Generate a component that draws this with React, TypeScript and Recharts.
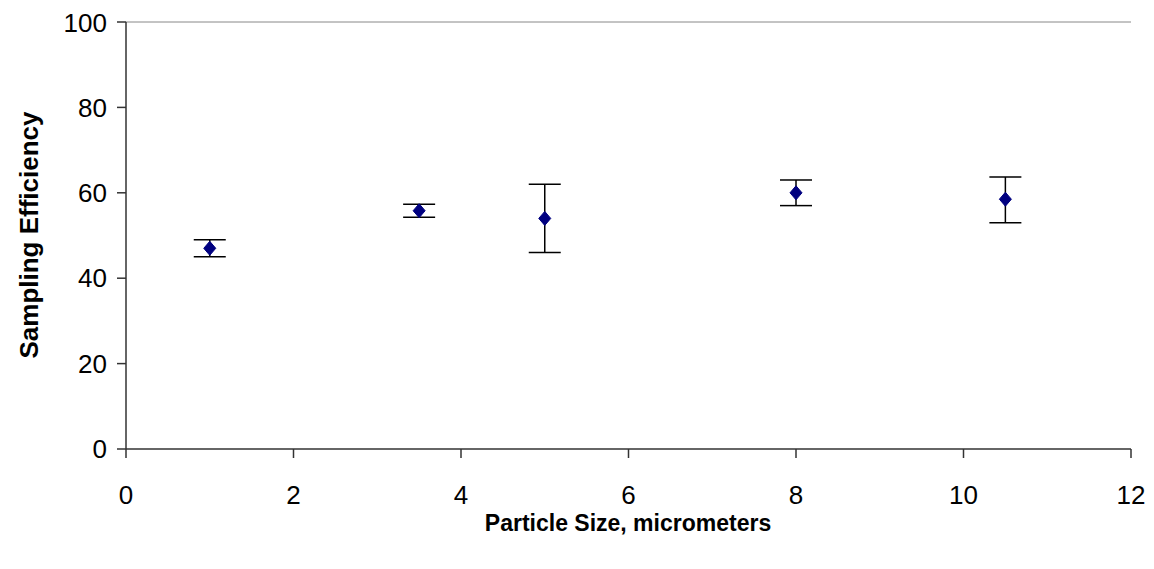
import React from "react";
import { ScatterChart, Scatter, XAxis, YAxis, ErrorBar, ReferenceLine, Label } from "recharts";

const particleSizes = [1, 3.5, 5, 8, 10.5];
const efficiency = [47, 55.8, 54, 60, 58.5];
const errorLow = [2, 1.5, 8, 3, 5.5];
const errorHigh = [2, 1.5, 8, 3, 5.2];
const xTicks = [0, 2, 4, 6, 8, 10, 12];
const yTicks = [0, 20, 40, 60, 80, 100];

const data = particleSizes.map((x, i) => ({
  x,
  y: efficiency[i],
  err: [errorLow[i], errorHigh[i]],
}));

const FONT = "'Liberation Sans', Arial, sans-serif";

const Diamond = (props: any) => {
  const { cx, cy } = props;
  if (cx == null || cy == null) return null;
  return (
    <polygon
      points={`${cx},${cy - 7} ${cx + 6},${cy} ${cx},${cy + 7} ${cx - 6},${cy}`}
      fill="#000080"
      stroke="#000080"
      strokeWidth={1}
    />
  );
};

export default function App() {
  return (
    <div style={{ width: 1146, height: 553 }}>
      <ScatterChart
        width={1146}
        height={553}
        margin={{ top: 14, right: 23, bottom: 0, left: 0 }}
      >
        <XAxis
          type="number"
          dataKey="x"
          domain={[0, 12]}
          ticks={xTicks}
          allowDataOverflow
          height={112}
          tickSize={9}
          tickMargin={28}
          axisLine={{ stroke: "#333", strokeWidth: 1.5 }}
          tickLine={{ stroke: "#333", strokeWidth: 1.5 }}
          tick={{ fill: "#000", fontSize: 26, fontFamily: FONT }}
        >
          <Label
            content={() => (
              <text
                x={620}
                y={523}
                textAnchor="middle"
                fontFamily={FONT}
                fontSize={23}
                fontWeight="bold"
                fill="#000"
              >
                Particle Size, micrometers
              </text>
            )}
          />
        </XAxis>
        <YAxis
          type="number"
          dataKey="y"
          domain={[0, 100]}
          ticks={yTicks}
          allowDataOverflow
          width={118}
          tickSize={9}
          tickMargin={10}
          axisLine={{ stroke: "#333", strokeWidth: 1.5 }}
          tickLine={{ stroke: "#333", strokeWidth: 1.5 }}
          tick={{ fill: "#000", fontSize: 26, fontFamily: FONT }}
        >
          <Label
            content={() => (
              <text
                x={30}
                y={227}
                textAnchor="middle"
                transform="rotate(-90 30 227)"
                fontFamily={FONT}
                fontSize={26}
                fontWeight="bold"
                fill="#000"
              >
                Sampling Efficiency
              </text>
            )}
          />
        </YAxis>
        <ReferenceLine y={100} stroke="#888" strokeWidth={1} />
        <Scatter data={data} shape={<Diamond />} isAnimationActive={false}>
          <ErrorBar
            dataKey="err"
            direction="y"
            width={16}
            stroke="#000"
            strokeWidth={1.5}
            isAnimationActive={false}
          />
        </Scatter>
      </ScatterChart>
    </div>
  );
}
